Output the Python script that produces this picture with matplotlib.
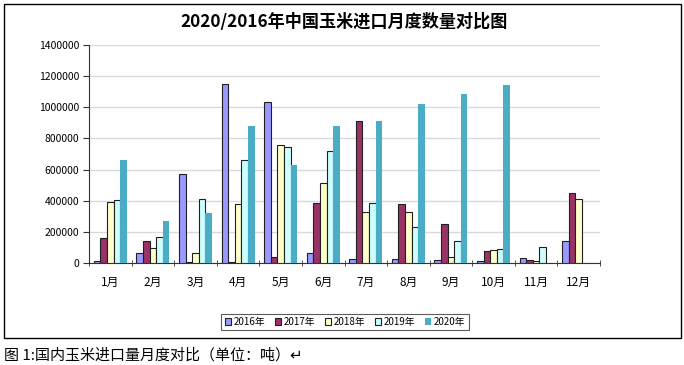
import matplotlib
matplotlib.use("Agg")
import matplotlib.pyplot as plt
import numpy as np
from matplotlib.patches import Rectangle

plt.rcParams['font.family'] = ['Noto Sans CJK SC', 'DejaVu Sans']

months = ["1月", "2月", "3月", "4月", "5月", "6月", "7月", "8月", "9月", "10月", "11月", "12月"]
years = ["2016年", "2017年", "2018年", "2019年", "2020年"]
y2016 = [10000, 66000, 574000, 1152000, 1036000, 66000, 26000, 28000, 21000, 15000, 34000, 143000]
y2017 = [163000, 143000, 4000, 4000, 41000, 385000, 912000, 379000, 253000, 77000, 21000, 452000]
y2018 = [390000, 98000, 66000, 381000, 760000, 516000, 330000, 328000, 41000, 81000, 11000, 413000]
y2019 = [402000, 167000, 413000, 664000, 747000, 717000, 385000, 233000, 139000, 88000, 101000, np.nan]
y2020 = [659000, 270000, 319000, 880000, 632000, 880000, 912000, 1019000, 1083000, 1141000, np.nan, np.nan]
series = [y2016, y2017, y2018, y2019, y2020]
colors = ["#9999FF", "#993366", "#FFFFCC", "#CCFFFF", "#4BACC6"]
edges = ["#202020", "#202020", "#202020", "#202020", "none"]
yticks = [0, 200000, 400000, 600000, 800000, 1000000, 1200000, 1400000]

fig = plt.figure(figsize=(6.84, 3.65), dpi=100)
fig.patches.append(Rectangle((4/684, 1-338/365), 677/684, 334/365, transform=fig.transFigure,
                             fill=False, edgecolor="black", linewidth=1.0))
ax = fig.add_axes([89/684, 1-263/365, 511/684, 218/365])

x = np.arange(len(months))
w = 0.155
for i, (vals, c, e, lab) in enumerate(zip(series, colors, edges, years)):
    ax.bar(x + (i - 2) * w, vals, width=w, color=c, edgecolor=e, linewidth=0.8, label=lab, zorder=3)

ax.set_xlim(-0.5, len(months) - 0.5)
ax.set_ylim(0, 1400000)
ax.set_yticks(yticks)
ax.set_yticklabels([str(v) for v in yticks], fontsize=7.5)
ax.set_xticks(x)
ax.set_xticklabels(months, fontsize=8.5)
ax.set_xticks(np.arange(-0.5, len(months), 1), minor=True)
ax.tick_params(axis='x', which='major', length=0, pad=9)
ax.tick_params(axis='x', which='minor', length=4, direction='inout', color='#333333')
ax.tick_params(axis='y', length=4, direction='out', color='#333333', pad=3)
ax.yaxis.grid(True, color='#d9d9d9', linewidth=1.0, zorder=0)
for s in ['top', 'right']:
    ax.spines[s].set_visible(False)
ax.spines['left'].set_color('#333333')
ax.spines['bottom'].set_color('#333333')

fig.text(344/684, 1-22/365, "2020/2016年中国玉米进口月度数量对比图", ha='center', va='center',
         fontsize=12.3, fontweight='bold')

leg = fig.legend(loc='center', bbox_to_anchor=(345/684, 1-322/365), ncol=5, fontsize=7,
                 frameon=True, fancybox=False, handlelength=0.6, handleheight=0.6,
                 handletextpad=0.3, columnspacing=1.0, borderpad=0.35)
leg.get_frame().set_edgecolor('#333333')
leg.get_frame().set_linewidth(0.8)

fig.text(4/684, 1-355/365, "图 1:国内玉米进口量月度对比（单位：吨）↵", ha='left', va='center',
         fontsize=10.8, family=['Noto Sans CJK SC', 'DejaVu Sans'])

fig.savefig("out.png", dpi=100)
